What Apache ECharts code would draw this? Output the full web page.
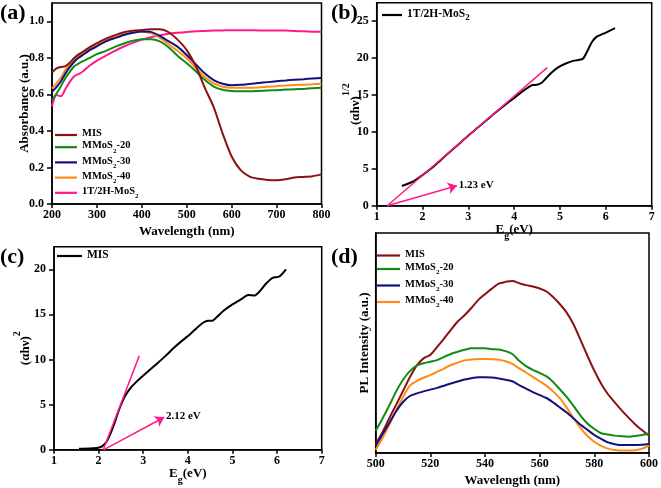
<!DOCTYPE html>
<html><head><meta charset="utf-8">
<script src="https://cdn.jsdelivr.net/npm/echarts@6/dist/echarts.min.js"></script>
<style>html,body{margin:0;padding:0;background:#fff}#c{width:661px;height:488px}</style>
</head><body><div id="c"></div>
<script>
// ---------- Panel (a): UV-vis absorbance ----------
const wlA = [200,210,220,230,240,250,260,270,280,290,300,320,340,360,380,400,420,440,460,480,500,520,540,560,580,600,620,640,660,680,700,720,740,760,780,800];
const absMIS = [.72,.742,.75,.755,.775,.80,.82,.835,.852,.867,.88,.905,.924,.94,.948,.952,.956,.956,.94,.898,.842,.755,.637,.53,.385,.26,.185,.15,.138,.132,.13,.135,.145,.148,.152,.162];
const absM20 = [.568,.605,.645,.69,.725,.755,.77,.783,.795,.808,.82,.838,.86,.878,.893,.902,.902,.89,.857,.81,.77,.727,.68,.643,.625,.618,.617,.617,.619,.621,.623,.626,.628,.63,.633,.636];
const absM30 = [.614,.64,.672,.715,.75,.78,.802,.818,.835,.85,.863,.89,.908,.925,.937,.944,.942,.92,.89,.86,.815,.765,.715,.678,.658,.65,.652,.657,.662,.667,.672,.676,.68,.683,.687,.69];
const absM40 = [.632,.66,.692,.735,.765,.79,.81,.825,.843,.857,.868,.895,.913,.928,.937,.942,.935,.91,.873,.837,.798,.745,.697,.66,.642,.636,.636,.636,.638,.642,.645,.648,.651,.653,.655,.658];
const absMoS2 = [.535,.596,.59,.63,.67,.70,.712,.728,.75,.768,.785,.812,.838,.862,.882,.9,.913,.924,.932,.937,.941,.945,.947,.949,.95,.951,.951,.951,.95,.95,.95,.949,.947,.945,.943,.942];
const xTicksA = [200,300,400,500,600,700,800];
const yTicksA = [0,0.2,0.4,0.6,0.8,1.0];

// ---------- Panel (b): Tauc plot 1T/2H-MoS2 ----------
const egB = [1.55,1.8,2.0,2.2,2.4,2.6,2.8,3.0,3.2,3.4,3.6,3.8,4.0,4.15,4.3,4.4,4.5,4.6,4.7,4.8,4.95,5.1,5.25,5.4,5.5,5.6,5.7,5.8,5.95,6.1,6.2];
const tauB = [2.67,3.3,4.15,5.1,6.2,7.3,8.4,9.5,10.55,11.6,12.65,13.65,14.6,15.35,16.0,16.35,16.38,16.65,17.3,17.95,18.7,19.2,19.55,19.75,19.9,21.0,22.2,22.9,23.3,23.75,24.05];
const tangentB = [[1.23,0],[4.72,18.7]];
const arrowB = [[1.23,0],[2.75,2.7]];
const gapB = '1.23 eV';
const yTicksB = [0,5,10,15,20,25];

// ---------- Panel (c): Tauc plot MIS ----------
const egC = [1.56,1.8,1.96,2.05,2.12,2.18,2.24,2.3,2.36,2.44,2.52,2.6,2.7,2.8,2.95,3.1,3.3,3.5,3.7,3.9,4.05,4.2,4.35,4.45,4.55,4.65,4.8,5.0,5.2,5.35,5.5,5.6,5.75,5.9,6.05,6.2];
const tauC = [0.1,0.12,0.19,0.3,0.55,0.9,1.5,2.2,3.0,4.2,5.2,6.0,6.75,7.3,8.0,8.65,9.5,10.4,11.35,12.2,12.8,13.5,14.1,14.3,14.3,14.7,15.4,16.1,16.7,17.15,17.1,17.5,18.4,19.05,19.2,20.0];
const tangentC = [[2.105,0],[2.91,10.4]];
const arrowC = [[2.12,0],[3.47,3.6]];
const gapC = '2.12 eV';
const yTicksC = [0,5,10,15,20];

// ---------- Panel (d): PL spectra ----------
const wlD = [500,502.5,505,507.5,510,512.5,515,517.5,520,522.5,525,527.5,530,532.5,535,537.5,540,542.5,545,547.5,550,552.5,555,557.5,560,562.5,565,567.5,570,572.5,575,577.5,580,582.5,585,587.5,590,592.5,595,597.5,600];
const plMIS = [4.1,9.5,15.9,22,28.2,34.4,39.7,43,44.6,48.2,52,56,59.8,62.6,65.9,69.5,72.2,74.7,77,77.8,78.2,77.2,76.3,75.7,74.8,73.4,70.8,67.5,63.6,58.2,51.2,44.1,37.4,31.5,26.7,23,19.4,16.1,13,10.3,7.9];
const plM20 = [10.1,15.7,21.7,28,33.3,37.2,39.7,40.8,41.5,42.2,43.7,45,46,46.9,47.6,47.6,47.6,47.2,47,46.3,45,41.9,39.5,37.8,36.4,34.8,32.2,28.8,25.3,21.2,16.9,13.4,10.9,9,8.4,7.9,7.6,7.4,7.7,8.2,8.9];
const plM30 = [3.3,8.5,13.8,19,23.2,25.9,27.1,28,28.8,29.6,30.6,31.6,32.5,33.4,34,34.4,34.4,34.3,33.9,33.3,32.6,30.9,29.3,27.7,26.3,25,22.9,20.6,18.3,15.6,12.8,10.5,8.2,6.4,4.8,4,3.6,3.6,3.6,3.8,4.1];
const plM40 = [1.4,6.8,12.8,19.5,25.4,30.6,32.7,34.2,35.4,36.9,38.4,40,41.1,42.1,42.5,42.7,42.7,42.6,42.4,41.7,40.5,38.5,36.6,34.6,32.6,30.5,27.9,24.7,20.4,15.6,11.3,7.7,5.1,3.2,2,1.4,1.1,1.1,1.3,2,3.3];
const xTicksD = [500,520,540,560,580,600];

// ---------- styling ----------
const FF = '"Liberation Serif","Times New Roman",serif';
const C = {MIS:'#8b1212', M20:'#138a13', M30:'#12127e', M40:'#ff8c1a', MoS2:'#ff1a8c', blk:'#000'};
const pair = (xs, ys) => xs.map((x, i) => [x, ys[i]]);

const tick = {fontFamily: FF, fontWeight: 'bold', fontSize: 12, color: '#000'};
const richName = {
  n: {fontFamily: FF, fontWeight: 'bold', fontSize: 13, color: '#000', lineHeight: 20, verticalAlign: 'bottom'},
  sup: {fontFamily: FF, fontWeight: 'bold', fontSize: 10, color: '#000', lineHeight: 20, verticalAlign: 'top'},
  m: {fontFamily: FF, fontWeight: 'bold', fontSize: 13, color: '#000', lineHeight: 18, verticalAlign: 'top'},
  sub: {fontFamily: FF, fontWeight: 'bold', fontSize: 10, color: '#000', lineHeight: 18, verticalAlign: 'bottom'}
};
const nameStyle = {fontFamily: FF, fontWeight: 'bold', fontSize: 13, color: '#000', rich: richName};
const axLine = {show: true, lineStyle: {color: '#000', width: 1.5}};

function xAx(gi, min, max, interval, ticks, name, gap) {
  return {
    type: 'value', gridIndex: gi, min, max, interval,
    axisLine: axLine, splitLine: {show: false},
    axisTick: {show: true, inside: false, length: 4, lineStyle: {color: '#000', width: 1.5}, customValues: ticks},
    axisLabel: Object.assign({margin: 5, customValues: ticks}, tick),
    name, nameLocation: 'middle', nameGap: gap, nameTextStyle: nameStyle
  };
}
function yAx(gi, min, max, ticks, name, gap, fmt) {
  return {
    type: 'value', gridIndex: gi, min, max,
    axisLine: axLine, splitLine: {show: false},
    axisTick: {show: !!ticks, length: 5, lineStyle: {color: '#000', width: 1.5}, customValues: ticks || undefined},
    axisLabel: ticks ? Object.assign({margin: 8, customValues: ticks, formatter: fmt}, tick) : {show: false},
    name, nameLocation: 'middle', nameGap: gap, nameRotate: 90, nameMoveOverlap: false, nameTextStyle: nameStyle
  };
}
const grid = (l, t, w, h) => ({left: l, top: t, width: w, height: h, show: true, borderColor: '#000', borderWidth: 1.5, backgroundColor: 'transparent', containLabel: false});

const legRich = (fs, sfs) => ({
  n: {fontFamily: FF, fontWeight: 'bold', fontSize: fs, color: '#000', lineHeight: 14, verticalAlign: 'top'},
  sub: {fontFamily: FF, fontWeight: 'bold', fontSize: sfs, color: '#000', lineHeight: 14, verticalAlign: 'bottom'}
});
const legFmt = name => {
  const base = name.replace(/ \(.\)$/, '');
  const i = base.indexOf('MoS2');
  if (i < 0) return '{n|' + base + '}';
  const after = base.slice(i + 4);
  return '{n|' + base.slice(0, i + 3) + '}{sub|2}' + (after ? '{n|' + after + '}' : '');
};
function legend(names, left, top, gap, iw, fs, sfs) {
  return {
    data: names, left, top, orient: 'vertical', icon: 'rect', itemWidth: iw, itemHeight: 2.2,
    itemGap: gap, padding: 0, selectedMode: false, formatter: legFmt,
    textStyle: {fontFamily: FF, fontWeight: 'bold', fontSize: fs, color: '#000', rich: legRich(fs, sfs)}
  };
}
function curve(name, xi, yi, xs, ys, color, w) {
  return {name, type: 'line', xAxisIndex: xi, yAxisIndex: yi, data: pair(xs, ys), symbol: 'none', smooth: 0.25,
    color, lineStyle: {color, width: w || 2}, silent: true};
}
function tangent(name, xi, pts, arrow, label) {
  return {name, type: 'line', xAxisIndex: xi, yAxisIndex: xi, data: pts, symbol: 'none', silent: true,
    color: C.MoS2, lineStyle: {color: C.MoS2, width: 1.5},
    markLine: {silent: true, symbol: ['none', 'arrow'], symbolSize: 9, animation: false,
      lineStyle: {color: C.MoS2, width: 1.5, type: 'solid'},
      itemStyle: {color: C.MoS2},
      label: {show: true, position: 'end', distance: 2, formatter: label, fontFamily: FF, fontWeight: 'bold', fontSize: 11, color: '#000'},
      data: [[{coord: arrow[0]}, {coord: arrow[1]}]]}};
}

const panelTitle = (t, l, tp) => ({text: t, left: l, top: tp, padding: 0, textStyle: {fontFamily: FF, fontWeight: 'bold', fontSize: 22, color: '#000'}});

const option = {
  animation: false,
  backgroundColor: '#fff',
  title: [panelTitle('(a)', 0, 2), panelTitle('(b)', 331, 2), panelTitle('(c)', 0, 246), panelTitle('(d)', 331, 246)],
  grid: [grid(52, 3, 269.5, 201), grid(376.7, 2.7, 275, 203), grid(54, 246.7, 267.7, 203), grid(375.7, 233, 275.3, 220)],
  xAxis: [
    xAx(0, 200, 800, 100, xTicksA, 'Wavelength (nm)', 21),
    xAx(1, 1, 7, 1, undefined, '{m|E}{sub|g}{m|(eV)}', 16),
    xAx(2, 1, 7, 1, undefined, '{m|E}{sub|g}{m|(eV)}', 16),
    xAx(3, 500, 600, 20, xTicksD, 'Wavelength (nm)', 21)
  ],
  yAxis: [
    yAx(0, 0, 1.1, yTicksA, 'Absorbance (a.u.)', 21, v => v.toFixed(1)),
    yAx(1, 0, 27.5, yTicksB, '{n|(αhν)}{sup|1/2}', 15),
    yAx(2, 0, 22.5, yTicksC, '{n|(αhν)}{sup|2}', 22),
    yAx(3, 0, 100, null, 'PL Intensity (a.u.)', 5)
  ],
  legend: [
    legend(['MIS','MMoS2-20','MMoS2-30','MMoS2-40','1T/2H-MoS2'], 55, 128, 1.2, 22, 10.5, 7),
    legend(['1T/2H-MoS2 (b)'], 382, 8, 0, 20, 11.5, 9),
    legend(['MIS (c)'], 57, 249, 0, 25, 11.5, 8),
    legend(['MIS','MMoS2-20','MMoS2-30','MMoS2-40'], 377, 248.5, 2.5, 23, 10.5, 7)
  ],
  series: [
    curve('1T/2H-MoS2', 0, 0, wlA, absMoS2, C.MoS2),
    curve('MMoS2-20', 0, 0, wlA, absM20, C.M20),
    curve('MMoS2-40', 0, 0, wlA, absM40, C.M40),
    curve('MMoS2-30', 0, 0, wlA, absM30, C.M30),
    curve('MIS', 0, 0, wlA, absMIS, C.MIS),
    curve('1T/2H-MoS2 (b)', 1, 1, egB, tauB, C.blk),
    tangent('tanB', 1, tangentB, arrowB, gapB),
    curve('MIS (c)', 2, 2, egC, tauC, C.blk),
    tangent('tanC', 2, tangentC, arrowC, gapC),
    curve('MIS', 3, 3, wlD, plMIS, C.MIS),
    curve('MMoS2-20', 3, 3, wlD, plM20, C.M20),
    curve('MMoS2-40', 3, 3, wlD, plM40, C.M40),
    curve('MMoS2-30', 3, 3, wlD, plM30, C.M30)
  ]
};
echarts.init(document.getElementById('c'), null, {renderer: 'canvas'}).setOption(option);
</script></body></html>
